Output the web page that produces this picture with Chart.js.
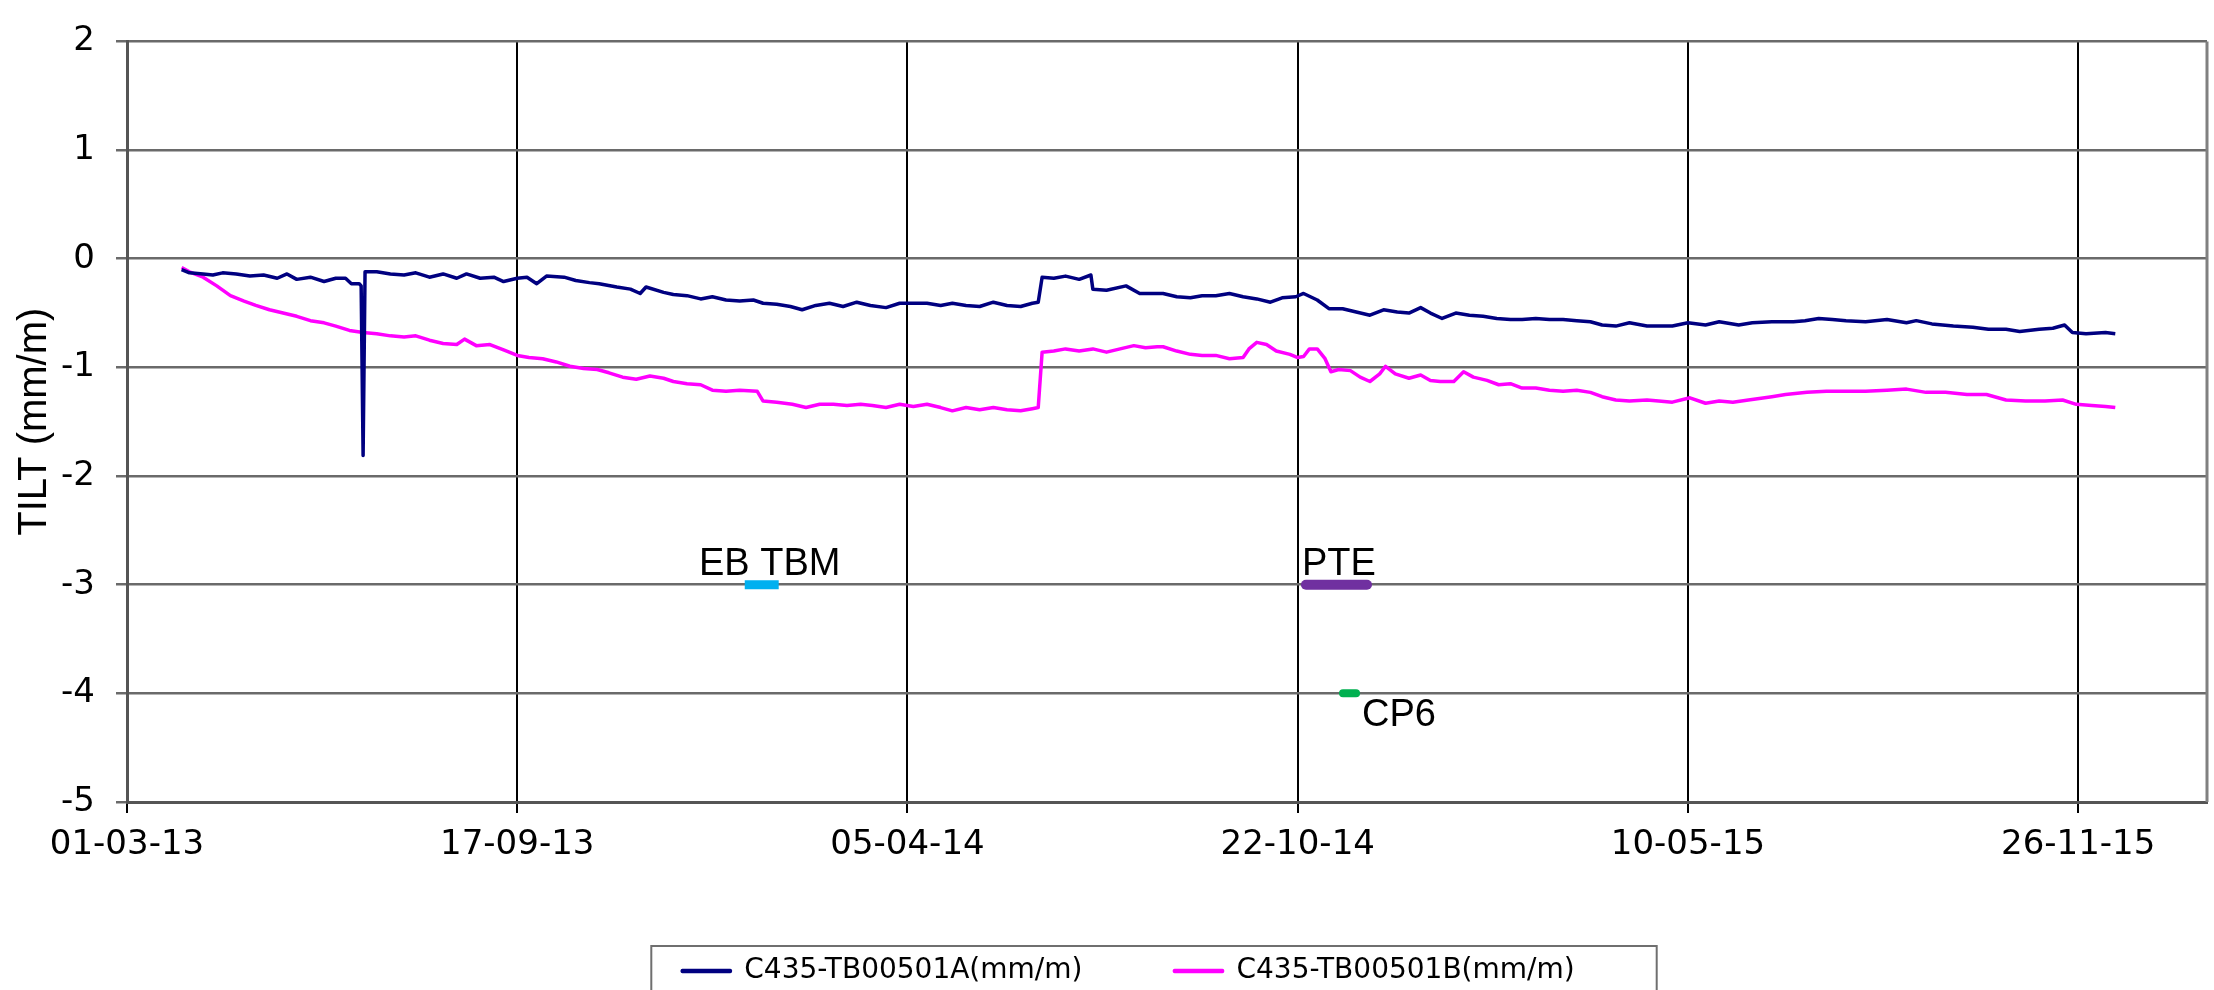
<!DOCTYPE html>
<html>
<head>
<meta charset="utf-8">
<title>TILT C435-TB00501</title>
<script src="https://cdn.jsdelivr.net/npm/chart.js@4.4.1/dist/chart.umd.min.js"></script>
<style>
  html, body { margin: 0; padding: 0; background: #fff; }
  #wrap { width: 2214px; height: 990px; }
</style>
</head>
<body>
<div id="wrap"><canvas id="tilt" width="2214" height="990"></canvas></div>
<script>
// x values are days counted from 01-03-13
var tickDays = [0, 200, 400, 600, 800, 1000];
var tickLabels = ['01-03-13', '17-09-13', '05-04-14', '22-10-14', '10-05-15', '26-11-15'];

var daysA = [28, 32, 39, 44, 49, 56, 63, 70, 77, 82,
  87, 94, 101, 107, 112, 115, 119, 120, 121, 122,
  128, 135, 142, 148, 155, 162, 169, 174, 181, 188,
  193, 200, 205, 210, 215, 224, 230, 237, 242, 251,
  258, 263, 266, 275, 280, 287, 294, 300, 307, 314,
  321, 326, 333, 340, 346, 353, 360, 367, 374, 381,
  389, 396, 403, 410, 417, 423, 430, 437, 444, 451,
  458, 464, 467, 469, 475, 481, 488, 494, 495, 502,
  512, 519, 528, 531, 538, 545, 551, 558, 565, 572,
  579, 586, 592, 599, 603, 610, 616, 623, 630, 637,
  644, 651, 657, 663, 668, 674, 681, 688, 695, 702,
  709, 715, 722, 729, 736, 743, 750, 756, 763, 770,
  779, 785, 792, 800, 809, 816, 826, 833, 843, 854,
  860, 867, 874, 881, 891, 902, 912, 917, 925, 936,
  946, 954, 963, 970, 980, 987, 993, 997, 1004, 1014,
  1019];
var tiltA = [-0.10, -0.13, -0.14, -0.15, -0.13, -0.14, -0.16, -0.15, -0.18, -0.14,
  -0.19, -0.17, -0.21, -0.18, -0.18, -0.23, -0.23, -0.25, -1.81, -0.12,
  -0.12, -0.14, -0.15, -0.13, -0.17, -0.14, -0.18, -0.14, -0.18, -0.17,
  -0.21, -0.18, -0.17, -0.23, -0.16, -0.17, -0.20, -0.22, -0.23, -0.26,
  -0.28, -0.32, -0.26, -0.31, -0.33, -0.34, -0.37, -0.35, -0.38, -0.39,
  -0.38, -0.41, -0.42, -0.44, -0.47, -0.43, -0.41, -0.44, -0.40, -0.43,
  -0.45, -0.41, -0.41, -0.41, -0.43, -0.41, -0.43, -0.44, -0.40, -0.43,
  -0.44, -0.41, -0.40, -0.17, -0.18, -0.16, -0.19, -0.15, -0.28, -0.29,
  -0.25, -0.32, -0.32, -0.32, -0.35, -0.36, -0.34, -0.34, -0.32, -0.35,
  -0.37, -0.40, -0.36, -0.35, -0.32, -0.38, -0.46, -0.46, -0.49, -0.52,
  -0.47, -0.49, -0.50, -0.45, -0.50, -0.55, -0.50, -0.52, -0.53, -0.55,
  -0.56, -0.56, -0.55, -0.56, -0.56, -0.57, -0.58, -0.61, -0.62, -0.59,
  -0.62, -0.62, -0.62, -0.59, -0.61, -0.58, -0.61, -0.59, -0.58, -0.58,
  -0.57, -0.55, -0.56, -0.57, -0.58, -0.56, -0.59, -0.57, -0.60, -0.62,
  -0.63, -0.65, -0.65, -0.67, -0.65, -0.64, -0.61, -0.68, -0.69, -0.68,
  -0.69];

var daysB = [28, 32, 39, 46, 53, 60, 66, 73, 80, 87,
  94, 101, 107, 114, 121, 128, 135, 142, 148, 155,
  162, 169, 173, 179, 186, 193, 200, 206, 213, 220,
  227, 234, 241, 247, 254, 261, 268, 275, 280, 287,
  294, 300, 307, 314, 323, 326, 333, 341, 348, 355,
  362, 369, 376, 382, 389, 396, 403, 410, 417, 423,
  430, 437, 444, 451, 458, 464, 467, 469, 475, 481,
  488, 495, 502, 509, 516, 522, 528, 531, 538, 545,
  551, 558, 565, 572, 575, 579, 584, 589, 596, 600,
  603, 606, 610, 614, 617, 621, 627, 632, 637, 642,
  645, 650, 657, 663, 668, 673, 680, 685, 690, 697,
  703, 709, 715, 722, 729, 736, 743, 750, 756, 763,
  770, 779, 785, 792, 801, 809, 816, 823, 831, 843,
  850, 861, 871, 881, 891, 902, 912, 922, 932, 943,
  953, 963, 973, 983, 992, 999, 1007, 1014, 1019];
var tiltB = [-0.08, -0.12, -0.17, -0.25, -0.34, -0.39, -0.43, -0.47, -0.50, -0.53,
  -0.57, -0.59, -0.62, -0.66, -0.68, -0.69, -0.71, -0.72, -0.71, -0.75,
  -0.78, -0.79, -0.74, -0.80, -0.79, -0.84, -0.89, -0.91, -0.92, -0.95,
  -0.99, -1.01, -1.02, -1.05, -1.09, -1.11, -1.08, -1.10, -1.13, -1.15,
  -1.16, -1.21, -1.22, -1.21, -1.22, -1.31, -1.32, -1.34, -1.37, -1.34,
  -1.34, -1.35, -1.34, -1.35, -1.37, -1.34, -1.36, -1.34, -1.37, -1.40,
  -1.37, -1.39, -1.37, -1.39, -1.40, -1.38, -1.37, -0.86, -0.85, -0.83,
  -0.85, -0.83, -0.86, -0.83, -0.80, -0.82, -0.81, -0.81, -0.85, -0.88,
  -0.89, -0.89, -0.92, -0.91, -0.83, -0.77, -0.79, -0.85, -0.88, -0.91,
  -0.90, -0.83, -0.83, -0.92, -1.04, -1.02, -1.03, -1.09, -1.13, -1.06,
  -0.99, -1.06, -1.10, -1.07, -1.12, -1.13, -1.13, -1.04, -1.09, -1.12,
  -1.16, -1.15, -1.19, -1.19, -1.21, -1.22, -1.21, -1.23, -1.27, -1.30,
  -1.31, -1.30, -1.31, -1.32, -1.28, -1.33, -1.31, -1.32, -1.30, -1.27,
  -1.25, -1.23, -1.22, -1.22, -1.22, -1.21, -1.20, -1.23, -1.23, -1.25,
  -1.25, -1.30, -1.31, -1.31, -1.30, -1.34, -1.35, -1.36, -1.37];

// construction events drawn as short bars
var eventNames = ['EB TBM', 'PTE', 'CP6'];
var eventFrom = [316.6, 604.2, 623.2];
var eventTo = [334, 635.5, 629.9];
var eventLevel = [-3, -3, -4];

function pairs(xs, ys) {
  return xs.map(function (d, i) { return { x: d, y: ys[i] }; });
}

var eventColors = ['#00b0f0', '#7030a0', '#00b050'];
var eventWidths = [9, 10, 8];
var eventCaps = ['butt', 'round', 'round'];

var datasets = [
  {
    label: 'C435-TB00501A(mm/m)',
    data: pairs(daysA, tiltA),
    borderColor: '#000080',
    backgroundColor: '#000080',
    borderWidth: 3.5,
    borderJoinStyle: 'round',
    pointRadius: 0,
    tension: 0
  },
  {
    label: 'C435-TB00501B(mm/m)',
    data: pairs(daysB, tiltB),
    borderColor: '#ff00ff',
    backgroundColor: '#ff00ff',
    borderWidth: 3.5,
    borderJoinStyle: 'round',
    pointRadius: 0,
    tension: 0
  }
];
eventNames.forEach(function (name, i) {
  datasets.push({
    label: name,
    data: [{ x: eventFrom[i], y: eventLevel[i] }, { x: eventTo[i], y: eventLevel[i] }],
    borderColor: eventColors[i],
    backgroundColor: eventColors[i],
    borderWidth: eventWidths[i],
    borderCapStyle: eventCaps[i],
    pointRadius: 0
  });
});

var frame = {
  id: 'frame',
  afterLayout: function (chart) {
    // legend sits a little right of the canvas centre in the original
    chart.legend.left += 25;
    chart.legend.right += 25;
  },
  afterDatasetsDraw: function (chart) {
    var ctx = chart.ctx, xs = chart.scales.x, ys = chart.scales.y;
    ctx.save();
    ctx.fillStyle = '#000';
    ctx.font = '38px "Liberation Sans", Arial, sans-serif';
    ctx.textBaseline = 'alphabetic';
    eventNames.forEach(function (name, i) {
      var x0 = xs.getPixelForValue(eventFrom[i]);
      var x1 = xs.getPixelForValue(eventTo[i]);
      var y = ys.getPixelForValue(eventLevel[i]);
      if (i === 0) {
        ctx.textAlign = 'center';
        ctx.fillText(name, (x0 + x1) / 2 + 8, y - 10);
      } else if (i === 1) {
        ctx.textAlign = 'left';
        ctx.fillText(name, x0 - 4, y - 10);
      } else {
        ctx.textAlign = 'left';
        ctx.fillText(name, x1 + 6, y + 33);
      }
    });
    ctx.restore();
  },
  afterDraw: function (chart) {
    var ctx = chart.ctx, a = chart.chartArea;
    ctx.save();
    ctx.strokeStyle = '#808080';
    ctx.lineWidth = 3;
    ctx.beginPath();
    ctx.moveTo(a.right, a.top);
    ctx.lineTo(a.right, a.bottom);
    ctx.stroke();
    var hb = chart.legend.legendHitBoxes;
    if (hb && hb.length) {
      var first = hb[0], last = hb[hb.length - 1];
      var midY = first.top + first.height / 2;
      var left = first.left - 31;
      var right = last.left + last.width + 82;
      ctx.strokeStyle = '#6f6f6f';
      ctx.lineWidth = 2;
      ctx.strokeRect(left, midY - 25, right - left, 120);
    }
    ctx.restore();
  }
};

Chart.defaults.font.family = '"DejaVu Sans", Verdana, sans-serif';
Chart.defaults.color = '#000';

var ctx = document.getElementById('tilt').getContext('2d');
var chart = new Chart(ctx, {
  type: 'line',
  data: { datasets: datasets },
  plugins: [frame],
  options: {
    responsive: false,
    animation: false,
    devicePixelRatio: 1,
    layout: { padding: { top: 26, right: 7, bottom: -5, left: 0 } },
    plugins: {
      tooltip: { enabled: false },
      legend: {
        position: 'bottom',
        labels: {
          font: { size: 28 },
          color: '#000',
          boxWidth: 48,
          boxHeight: 1,
          padding: 92,
          filter: function (item) { return item.datasetIndex < 2; }
        }
      }
    },
    scales: {
      x: {
        type: 'linear',
        min: 0,
        max: 1066,
        afterFit: function (s) { s.height = 63; },
        ticks: {
          stepSize: 200,
          includeBounds: false,
          maxRotation: 0,
          autoSkip: false,
          padding: 12,
          font: { size: 34 },
          callback: function (v) {
            var i = tickDays.indexOf(v);
            return i >= 0 ? tickLabels[i] : '';
          }
        },
        grid: { color: '#000', lineWidth: 2, tickLength: 11 },
        border: { color: '#555', width: 3 }
      },
      y: {
        min: -5,
        max: 2,
        afterFit: function (s) { s.width = 127; },
        ticks: { stepSize: 1, padding: 21, font: { size: 34 } },
        grid: { color: '#6a6a6a', lineWidth: 2.5, tickLength: 11 },
        border: { color: '#555', width: 3 },
        title: {
          display: true,
          text: 'TILT (mm/m)',
          padding: { top: 11, bottom: 0 },
          font: { family: '"Liberation Sans", Arial, sans-serif', size: 40 }
        }
      }
    }
  }
});
</script>
</body>
</html>
